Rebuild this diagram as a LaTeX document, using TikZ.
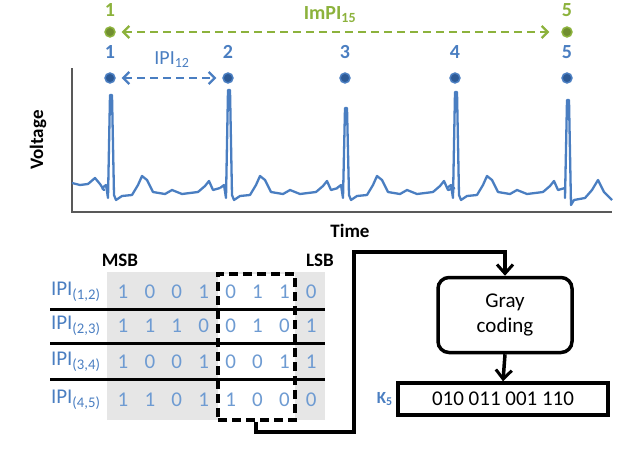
\documentclass[tikz,border=0pt]{standalone}
\usepackage{fontspec}
\setmainfont{Carlito}
\usetikzlibrary{arrows.meta}
\definecolor{blu}{RGB}{74,126,193}
\definecolor{dblu}{RGB}{45,90,150}
\definecolor{lblu}{RGB}{110,155,210}
\definecolor{grn}{RGB}{140,178,60}
\definecolor{gry}{RGB}{230,230,230}
\tikzset{
 lbl/.style={font=\bfseries\fontsize{19}{19}\selectfont},
 bit/.style={text=lblu,font=\fontsize{21}{21}\selectfont},
 ipi/.style={text=blu,font=\fontsize{21}{21}\selectfont,anchor=east},
 num/.style={font=\bfseries\fontsize{20}{20}\selectfont},
 conn/.style={line width=3.5pt,-{Straight Barb[length=9pt,width=16pt,line width=3pt]}},
 dotb/.style={circle,fill=dblu,draw=blu,line width=1.5pt,inner sep=3.5pt},
 dotg/.style={circle,fill=grn!80!black,draw=grn,line width=1.5pt,inner sep=3.5pt},
 ecg/.style={blu,line width=2.3pt,line join=round},
 darr/.style={line width=2.3pt,dash pattern=on 8pt off 5pt,{Straight Barb[length=6pt,width=12pt]}-{Straight Barb[length=6pt,width=12pt]}},
}
\begin{document}
\begin{tikzpicture}[x=1pt,y=-1pt]
\useasboundingbox (0,0) rectangle (640,463);
\draw[gray!70!black,line width=1.2pt] (72,68) -- (72,212) -- (612,212);
\node[lbl,rotate=90] (volt) at (38,140) {Voltage};
\node[lbl] (time) at (350,231) {Time};
\draw[ecg] (72,183) -- (80,185) -- (88,184) -- (95,178) -- (100,184) -- (104,190) -- (102,188);
\foreach \p/\h in {110/95,228/90,345/108,455/92}{
 \draw[ecg] (\p-8,188) -- (\p-4,185) -- (\p-2,198) -- (\p,\h) -- (\p+2,\h) -- (\p+4,195) -- (\p+6,200) -- (\p+12,196) -- (\p+22,195) -- (\p+28,185) -- (\p+32,176) -- (\p+37,180) -- (\p+43,192) -- (\p+55,194) -- (\p+62,190) -- (\p+72,194) -- (\p+88,192) -- (\p+95,186) -- (\p+99,181) -- (\p+103,190) -- (\p+110,188);
}
\draw[ecg] (565,188) -- (565,198) -- (567,100) -- (569,100) -- (571,205) -- (574,200) -- (585,198) -- (592,190) -- (598,180) -- (604,192) -- (612,200);
\foreach \i/\x in {1/110,2/228,3/345,4/455,5/567}{
 \node[dotb] (b\i) at (\x,78) {};
 \node[num,text=blu] (n\i) at (\x,52) {\i};
}
\node[dotg] (g1) at (110,32) {};
\node[dotg] (g5) at (567,32) {};
\node[num,text=grn] (gn1) at (110,10) {1};
\node[num,text=grn] (gn5) at (567,10) {5};
\draw[grn,darr] ([xshift=6pt]g1.east) -- ([xshift=-12pt]g5.west);
\node[num,text=grn] (impi) at (330,15) {ImPI\textsubscript{15}};
\draw[blu,darr] ([xshift=6pt]b1.east) -- ([xshift=-6pt]b2.west);
\node[text=blu,font=\fontsize{20}{20}\selectfont] (ipi12) at (172,60) {IPI\textsubscript{12}};
\fill[gry] (107,272) rectangle (325,420);
\fill[white] (218,274) rectangle (295,420);
\node[lbl] (msb) at (120,260) {MSB};
\node[lbl] (lsb) at (320,260) {LSB};
\draw[line width=3pt] (50,309) -- (325,309);
\draw[line width=3pt] (50,343) -- (325,343);
\draw[line width=3pt] (50,379) -- (325,379);
\node[ipi] (l1) at (104,292) {IPI\textsubscript{(1,2)}};
\node[ipi] (l2) at (104,326) {IPI\textsubscript{(2,3)}};
\node[ipi] (l3) at (104,362) {IPI\textsubscript{(3,4)}};
\node[ipi] (l4) at (104,400) {IPI\textsubscript{(4,5)}};
\foreach \b [count=\c] in {1,0,0,1,0,1,1,0} \node[bit] at (123+26.9*\c-26.9,292) {\b};
\foreach \b [count=\c] in {1,1,1,0,0,1,0,1} \node[bit] at (123+26.9*\c-26.9,326) {\b};
\foreach \b [count=\c] in {1,0,0,1,0,0,1,1} \node[bit] at (123+26.9*\c-26.9,362) {\b};
\foreach \b [count=\c] in {1,1,0,1,1,0,0,0} \node[bit] at (123+26.9*\c-26.9,400) {\b};
\node[draw,line width=3.5pt,dash pattern=on 9pt off 5pt,minimum width=77pt,minimum height=146pt] (sel) at (256.5,347) {};
\node[draw,line width=3.5pt,rounded corners=11pt,minimum width=134pt,minimum height=75pt,align=center,font=\fontsize{21}{25}\selectfont] (gray) at (505,315) {Gray\\coding};
\node[draw,line width=3.5pt,minimum width=210pt,minimum height=32pt,font=\fontsize{21}{21}\selectfont] (key) at (503,399) {010 011 001 110};
\node[text=blu,font=\bfseries\fontsize{17}{17}\selectfont,anchor=east] (k5) at (key.west) {K\textsubscript{5}};
\coordinate (c1) at (256,432);
\coordinate (c2) at (354,432);
\coordinate (c3) at (354,252);
\coordinate (c4) at (505,252);
\draw[conn] (sel.south -| c1) -- (c1) -- (c2) -- (c3) -- (c4) -- (gray.north);
\draw[conn] (gray.south) -- (key.north);
\end{tikzpicture}
\end{document}
